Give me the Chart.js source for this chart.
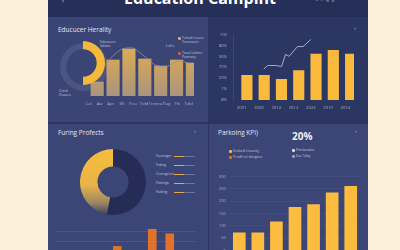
<!DOCTYPE html>
<html>
<head>
<meta charset="utf-8">
<script src="https://cdn.jsdelivr.net/npm/chart.js@4.4.1/dist/chart.umd.min.js"></script>
<style>
  html, body { margin: 0; width: 400px; height: 250px; overflow: hidden; background: #fcefd9; font-family: "Open Sans", sans-serif; }
  .box { position: absolute; }
  canvas { position: absolute; }
  .t { position: absolute; white-space: nowrap; color: #c3c7da; line-height: 1.1; }
  .title { font-size: 6.5px; color: #e4e6f0; }
  .dot { position: absolute; width: 2.5px; height: 2.5px; border-radius: 50%; }
  .leg-line { position: absolute; height: 1px; }
</style>
</head>
<body>

<!-- dashboard frame -->
<div class="box" style="left:48px;top:0;width:320px;height:250px;background:#2b3560"></div>
<div class="box" style="left:48px;top:0;width:320px;height:17px;background:#252f58"></div>
<div class="box" style="left:48px;top:17px;width:160px;height:105px;background:#3a4475"></div>
<div class="box" style="left:208px;top:17px;width:160px;height:105px;background:#2b3662"></div>
<div class="box" style="left:48px;top:124px;width:160px;height:126px;background:#3b4576"></div>
<div class="box" style="left:209px;top:124px;width:159px;height:126px;background:#3b4576"></div>

<!-- header -->
<div class="t" style="left:40px;top:-10px;width:320px;text-align:center;font-size:16px;font-weight:700;color:#fff;line-height:16px">Education Campint</div>
<div class="t" style="left:62px;top:-3px;font-size:7px;color:#c8cce0">‹</div>
<div class="t" style="left:316px;top:-2px;font-size:5px;color:#c8cce0;letter-spacing:3px">▫◦◃▹</div>

<!-- top-left panel texts -->
<div class="t title" style="left:58px;top:26px">Educucer Herality</div>
<div class="t" style="left:100px;top:40px;font-size:3.6px">Educucor<br>Sdiatu</div>
<div class="t" style="left:166px;top:44px;font-size:3.6px">Lofrc</div>
<div class="dot" style="left:178px;top:37px;background:#e7a36c"></div>
<div class="t" style="left:182px;top:36px;font-size:3.4px">Tuhad Locurs<br>Tanucaurs</div>
<div class="dot" style="left:178px;top:52px;background:#e0574c"></div>
<div class="t" style="left:182px;top:51px;font-size:3.4px">Teaul Ladres<br>Pumsaty</div>
<div class="t" style="left:59px;top:89px;font-size:3.4px">Cresh<br>Doaaru</div>

<!-- top-right panel -->
<div class="t" style="left:354px;top:25px;font-size:6px">›</div>

<!-- bottom-left panel -->
<div class="t title" style="left:58px;top:129px">Furing Profects</div>
<div class="t" style="left:194px;top:128px;font-size:6px">‹</div>
<div id="blLegend"></div>

<!-- bottom-right panel -->
<div class="t title" style="left:218px;top:129px">Parkoing KPI)</div>
<div class="t" style="left:292px;top:131px;font-size:10px;font-weight:700;color:#eef0f6">20%</div>
<div class="t" style="left:355px;top:128px;font-size:6px">›</div>
<div class="dot" style="left:229px;top:150px;background:#f4bf52"></div>
<div class="t" style="left:233px;top:149px;font-size:3.6px">Endard Lcaunty</div>
<div class="dot" style="left:229px;top:156px;background:#e2742f"></div>
<div class="t" style="left:233px;top:155px;font-size:3.6px">Prodf ecl dergans</div>
<div class="dot" style="left:292px;top:149px;background:#e9dcc0"></div>
<div class="t" style="left:296px;top:148px;font-size:3.6px">Pertianaku</div>
<div class="dot" style="left:292px;top:155px;background:#9aa0bd"></div>
<div class="t" style="left:296px;top:154px;font-size:3.6px">Eas Taby</div>

<canvas id="tlRing" width="48" height="48" style="left:60px;top:43px"></canvas>
<canvas id="tlChart" width="118" height="74" style="left:80px;top:36px"></canvas>
<canvas id="tlArc" width="44" height="44" style="left:61px;top:41px"></canvas>
<canvas id="trChart" width="160" height="88" style="left:208px;top:26px"></canvas>
<canvas id="blDonut" width="66" height="66" style="left:80px;top:149px"></canvas>
<canvas id="blChart" width="140" height="50" style="left:56px;top:218px"></canvas>
<canvas id="brChart" width="160" height="87" style="left:208px;top:170px"></canvas>

<script>
// top-left: Educucer Herality
const tlTickLabels = ["Cal", "Aw", "Apr", "Tilt", "Fica", "Tidd", "Treena", "Tlug", "Fhi", "Tidd"]
const tlBars = [14, 36, 47, 37, 30, 36, 33]
const tlLine = [14, 24, 38, 47, 48, 40, 31, 29, 35, 33]
const tlArc = [50, 50]

// top-right
const trYears = ["2001", "2003", "2014", "2012", "2022", "2010", "2014"]
const trTickLabels = ["8%", "1%", "20%", "75%", "36%", "86%", "100"]
const trBars = [2.25, 2.25, 1.9, 2.7, 4.2, 4.55, 4.2]
const trLineX = [-0.45, 0, 0.95, 1.62, 2.07, 2.49, 3.46, 4.12, 5.0]
const trLineY = [2.83, 3.16, 3.16, 3.07, 4.18, 4.0, 4.9, 4.9, 5.55]

// bottom-left: Furing Profects
const blNames = ["Fusanger", "Fiding", "Cionsgrion", "Flatings", "Fading"]
const blDonut = [53, 47]
const blBars = [12, 8, 15, 24, 18, 43, 38, 10]

// bottom-right: Parkoing KPI
const brCats = ["Jan", "Feb", "Mar", "Apr", "May", "Jun", "Jul"]
const brBars = [72, 72, 116, 175, 186, 234, 260]

const tickColor = "#a9aecb"
const tickFont = { family: "Open Sans", size: 4.2 }

Chart.defaults.animation = false
Chart.defaults.responsive = false
Chart.defaults.plugins.legend.display = false
Chart.defaults.plugins.tooltip.enabled = false

// bottom-left legend rows
const legendBox = document.getElementById("blLegend")
blNames.forEach((name, i) => {
  const y = 154 + i * 9
  legendBox.innerHTML +=
    `<div class="t" style="left:156px;top:${y}px;font-size:3.6px">${name}</div>` +
    `<div class="leg-line" style="left:174px;top:${y + 2}px;width:10px;background:#e4a84a"></div>` +
    `<div class="leg-line" style="left:184px;top:${y + 2}px;width:11px;background:#6e7599"></div>`
})

function vGradient(chart, stops, fallback) {
  const area = chart.chartArea
  if (!area) return fallback
  const g = chart.ctx.createLinearGradient(0, area.top, 0, area.bottom)
  stops.forEach(([p, c]) => g.addColorStop(p, c))
  return g
}

// grey ring behind the top-left bars
new Chart(document.getElementById("tlRing"), {
  type: "doughnut",
  data: { datasets: [{ data: [100], backgroundColor: ["#4b5584"], borderWidth: 0 }] },
  options: { cutout: "74%" },
})

// top-left bars + line
new Chart(document.getElementById("tlChart"), {
  type: "bar",
  data: {
    labels: tlBars.map(() => ""),
    datasets: [
      {
        type: "line",
        data: tlLine,
        xAxisID: "x2",
        borderColor: "#8d92b3",
        borderWidth: 0.8,
        pointRadius: 0,
        tension: 0.2,
      },
      {
        data: tlBars,
        xAxisID: "x",
        backgroundColor: (ctx) =>
          vGradient(ctx.chart, [[0, "#e4b04d"], [0.5, "#caa163"], [1, "#a8957f"]], "#d0a55a"),
        barThickness: 12.5,
      },
    ],
  },
  options: {
    layout: { padding: { left: 3, right: 2, top: 4 } },
    scales: {
      x: { display: false },
      x2: {
        type: "category",
        labels: tlTickLabels,
        position: "bottom",
        grid: { display: false, drawTicks: false },
        border: { display: false },
        ticks: { color: tickColor, font: tickFont, padding: 5, autoSkip: false, maxRotation: 0 },
        afterFit: (s) => { s.height = 14 },
      },
      y: { display: false, min: 0, max: 56 },
    },
  },
})

// yellow half arc over the bars
new Chart(document.getElementById("tlArc"), {
  type: "doughnut",
  data: { datasets: [{ data: tlArc, backgroundColor: ["#f4b83a", "rgba(0,0,0,0)"], borderWidth: 0 }] },
  options: { cutout: "62%" },
})

// top-right bars + line
new Chart(document.getElementById("trChart"), {
  type: "bar",
  data: {
    labels: trYears,
    datasets: [
      {
        type: "line",
        data: trLineX.map((x, i) => ({ x: x, y: trLineY[i] })),
        xAxisID: "xl",
        borderColor: "#b4b8cc",
        borderWidth: 0.9,
        pointRadius: 0,
      },
      {
        data: trBars,
        xAxisID: "x",
        backgroundColor: "#f9ba3e",
        barThickness: 10.5,
      },
    ],
  },
  options: {
    layout: { padding: { top: 6, right: 14 } },
    scales: {
      x: {
        grid: { display: false, drawTicks: false },
        border: { display: false },
        ticks: { color: tickColor, font: tickFont, padding: 5, autoSkip: false, maxRotation: 0 },
        afterFit: (s) => { s.height = 14 },
      },
      xl: { type: "linear", display: false, min: -0.5, max: 6.5 },
      y: {
        min: 0,
        max: 6,
        grid: { display: false, drawTicks: false },
        border: { display: true, color: "rgba(170,176,210,0.25)", width: 0.6 },
        ticks: {
          stepSize: 1,
          color: tickColor,
          font: tickFont,
          padding: 6,
          callback: (v) => trTickLabels[v],
        },
        afterFit: (s) => { s.width = 25 },
      },
    },
  },
})

// bottom-left donut
new Chart(document.getElementById("blDonut"), {
  type: "doughnut",
  data: {
    datasets: [
      {
        data: blDonut,
        backgroundColor: (ctx) =>
          ctx.dataIndex === 0
            ? "#252d56"
            : vGradient(ctx.chart,
                [[0, "#f6be3e"], [0.55, "#e9b346"], [0.82, "#9b8564"], [1, "#3a3d5d"]], "#f0b840"),
        borderWidth: 0,
      },
    ],
  },
  options: { cutout: "47%" },
})

// bottom-left orange bars (run off the bottom edge)
new Chart(document.getElementById("blChart"), {
  type: "bar",
  data: {
    labels: blBars.map(() => ""),
    datasets: [
      { data: blBars, backgroundColor: "#e2722a", barThickness: 8 },
    ],
  },
  options: {
    layout: { padding: { top: 5 } },
    scales: {
      x: { display: false },
      y: {
        min: 0,
        max: 50,
        ticks: { display: false, stepSize: 10 },
        border: { display: false },
        grid: {
          drawTicks: false,
          lineWidth: 0.6,
          color: (ctx) => (ctx.tick.value === 50 ? "rgba(0,0,0,0)" : "rgba(190,196,225,0.22)"),
        },
      },
    },
  },
})

// bottom-right bars
new Chart(document.getElementById("brChart"), {
  type: "bar",
  data: {
    labels: brCats,
    datasets: [
      { data: brBars, backgroundColor: "#fbbc40", barThickness: 12 },
    ],
  },
  options: {
    layout: { padding: { top: 5, right: 8 } },
    scales: {
      x: { display: false },
      y: {
        min: 0,
        max: 300,
        border: { display: false },
        grid: { drawTicks: false, lineWidth: 0.6, color: "rgba(190,196,225,0.12)" },
        ticks: { stepSize: 50, color: tickColor, font: tickFont, padding: 4 },
        afterFit: (s) => { s.width = 22 },
      },
    },
  },
})
</script>
</body>
</html>
